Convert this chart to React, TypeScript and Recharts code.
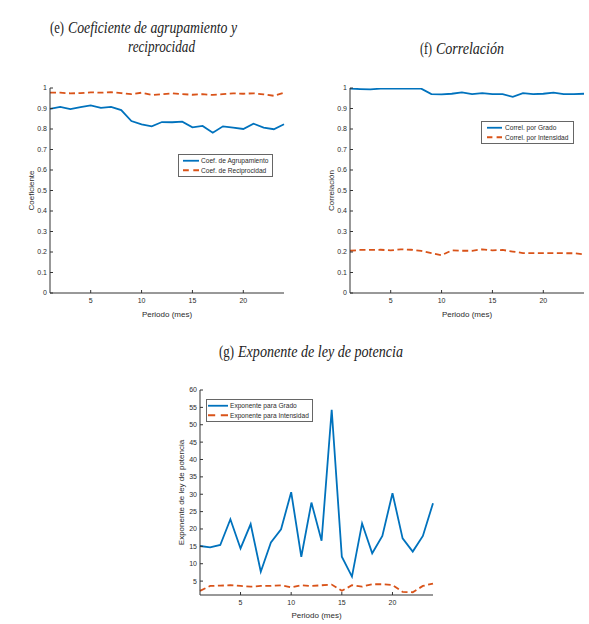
import React from 'react';
import { LineChart, Line, XAxis, YAxis, Legend } from 'recharts';

// ---- Data ----
const periods = [1, 2, 3, 4, 5, 6, 7, 8, 9, 10, 11, 12, 13, 14, 15, 16, 17, 18, 19, 20, 21, 22, 23, 24];

const coefAgrupamiento = [0.898, 0.908, 0.897, 0.907, 0.915, 0.903, 0.908, 0.892, 0.839, 0.823, 0.813, 0.834, 0.833, 0.836, 0.808, 0.815, 0.782, 0.813, 0.807, 0.8, 0.826, 0.807, 0.799, 0.823];
const coefReciprocidad = [0.977, 0.977, 0.974, 0.975, 0.979, 0.977, 0.98, 0.975, 0.97, 0.977, 0.966, 0.97, 0.974, 0.97, 0.967, 0.97, 0.966, 0.97, 0.974, 0.972, 0.974, 0.969, 0.962, 0.977];

const correlGrado = [0.997, 0.995, 0.993, 0.997, 0.997, 0.997, 0.997, 0.997, 0.97, 0.969, 0.972, 0.979, 0.97, 0.975, 0.97, 0.97, 0.957, 0.975, 0.97, 0.972, 0.977, 0.97, 0.97, 0.972];
const correlIntensidad = [0.206, 0.21, 0.21, 0.211, 0.208, 0.213, 0.211, 0.205, 0.194, 0.184, 0.208, 0.206, 0.206, 0.213, 0.208, 0.21, 0.202, 0.195, 0.195, 0.195, 0.195, 0.194, 0.194, 0.189];

const expGrado = [15.1, 14.7, 15.4, 22.8, 14.4, 21.4, 7.7, 16.1, 19.9, 30.6, 12, 27.6, 16.6, 54.3, 12, 6.3, 21.6, 13, 18, 30.3, 17.3, 13.5, 18, 27.4];
const expIntensidad = [2.2, 3.6, 3.7, 3.8, 3.6, 3.4, 3.6, 3.6, 3.8, 3.2, 3.8, 3.6, 3.8, 4.0, 2.2, 3.8, 3.4, 4.1, 4.1, 3.9, 1.9, 1.8, 3.6, 4.3];

const xTicks = [5, 10, 15, 20];
const unitTicks = [0, 0.1, 0.2, 0.3, 0.4, 0.5, 0.6, 0.7, 0.8, 0.9, 1];
const expTicks = [5, 10, 15, 20, 25, 30, 35, 40, 45, 50, 55, 60];

const namesE = ['Coef. de Agrupamiento', 'Coef. de Reciprocidad'];
const namesF = ['Correl. por Grado', 'Correl. por Intensidad'];
const namesG = ['Exponente para Grado', 'Exponente para Intensidad'];

// ---- Styles ----
const BLUE = '#0072BD';
const RED = '#D95319';
const AXIS = '#333333';
const TEXT = '#2b2b2b';
const SANS = '"Liberation Sans", Arial, sans-serif';
const SERIF = '"Liberation Serif", "Times New Roman", serif';

const build = (a: number[], b: number[]) => periods.map((p, i) => ({ p, s1: a[i], s2: b[i] }));

const emptyTick = () => <g />;

type LegendCfg = { left: number; top: number; width: number; height: number; lineX0: number; lineX1: number; textX: number };

type PanelProps = {
  left: number; top: number; width: number; height: number;
  margin: { top: number; right: number; bottom: number; left: number };
  xHeight: number;
  data: { p: number; s1: number; s2: number }[];
  names: string[];
  yDomain: [number, number];
  yTicks: number[];
  yLabel: string;
  xLabelDy: number;
  legend: LegendCfg;
};

function LegendBox({ cfg, names }: { cfg: LegendCfg; names: string[] }) {
  const rowH = cfg.height / 2;
  const len = cfg.lineX1 - cfg.lineX0;
  const dash = `${(len * 0.36).toFixed(1)} ${(len * 0.28).toFixed(1)}`;
  return (
    <svg width={cfg.width} height={cfg.height} style={{ display: 'block' }}>
      <rect x={0.5} y={0.5} width={cfg.width - 1} height={cfg.height - 1} fill="#fff" stroke="#666" strokeWidth={1} />
      {names.map((n, i) => {
        const cy = rowH * i + rowH / 2 + (i === 0 ? 1 : -1);
        return (
          <g key={n}>
            <line x1={cfg.lineX0} x2={cfg.lineX1} y1={cy} y2={cy} stroke={i === 0 ? BLUE : RED} strokeWidth={1.8} strokeDasharray={i === 0 ? undefined : dash} />
            <text x={cfg.textX} y={cy + 2.3} fontSize={6.6} fontFamily={SANS} fill={TEXT}>{n}</text>
          </g>
        );
      })}
    </svg>
  );
}

function Panel(props: PanelProps) {
  const { left, top, width, height, margin, xHeight, data, names, yDomain, yTicks, yLabel, xLabelDy, legend } = props;
  const tickStyle = { fontSize: 7, fill: TEXT, fontFamily: SANS };
  return (
    <div style={{ position: 'absolute', left, top, width, height }}>
      <LineChart width={width} height={height} data={data} margin={margin}>
        <XAxis
          xAxisId="b"
          dataKey="p"
          type="number"
          domain={[1, 24]}
          ticks={xTicks}
          interval={0}
          height={xHeight}
          tickSize={-3}
          tickMargin={8}
          tick={tickStyle}
          stroke={AXIS}
          tickLine={{ stroke: AXIS }}
          axisLine={{ stroke: AXIS }}
          label={{
            content: (lp: any) => {
              const vb = lp.viewBox || { x: 0, y: 0, width: 0 };
              return (
                <text x={vb.x + vb.width / 2} y={vb.y + xLabelDy} textAnchor="middle" fontSize={8} fontFamily={SANS} fill={TEXT}>
                  Periodo (mes)
                </text>
              );
            },
          }}
        />
        <XAxis
          xAxisId="t"
          orientation="top"
          type="number"
          dataKey="p"
          domain={[1, 24]}
          ticks={xTicks}
          interval={0}
          height={0}
          tickSize={-3}
          tick={emptyTick}
          stroke={AXIS}
        />
        <YAxis
          yAxisId="l"
          type="number"
          domain={yDomain}
          ticks={yTicks}
          interval={0}
          width={40}
          tickSize={-3}
          tickMargin={6}
          tick={tickStyle}
          stroke={AXIS}
          allowDataOverflow
          label={{
            content: (lp: any) => {
              const vb = lp.viewBox || { x: 0, y: 0, width: 0, height: 0 };
              const cx = vb.x + vb.width - 16;
              const cy = vb.y + vb.height / 2;
              return (
                <text x={cx} y={cy} transform={`rotate(-90 ${cx} ${cy})`} textAnchor="middle" fontSize={8} fontFamily={SANS} fill={TEXT}>
                  {yLabel}
                </text>
              );
            },
          }}
        />
        <YAxis
          yAxisId="r"
          orientation="right"
          type="number"
          domain={yDomain}
          ticks={yTicks}
          interval={0}
          width={0}
          tickSize={-3}
          tick={emptyTick}
          stroke={AXIS}
          allowDataOverflow
        />
        <Legend
          layout="vertical"
          align="center"
          verticalAlign="middle"
          wrapperStyle={{ position: 'absolute', left: legend.left, top: legend.top, width: legend.width, height: legend.height, margin: 0, padding: 0 }}
          content={() => <LegendBox cfg={legend} names={names} />}
        />
        <Line xAxisId="b" yAxisId="l" type="linear" dataKey="s1" name={names[0]} stroke={BLUE} strokeWidth={1.8} dot={false} isAnimationActive={false} />
        <Line xAxisId="b" yAxisId="l" type="linear" dataKey="s2" name={names[1]} stroke={RED} strokeWidth={1.8} strokeDasharray="6 3.5" dot={false} isAnimationActive={false} />
      </LineChart>
    </div>
  );
}

function TitlePart({ x, y, w, italic, children }: { x: number; y: number; w: number; italic?: boolean; children: React.ReactNode }) {
  return (
    <text x={x} y={y} fontSize={16} fontFamily={SERIF} fill="#222" fontStyle={italic ? 'italic' : 'normal'} textLength={w} lengthAdjust="spacingAndGlyphs">
      {children}
    </text>
  );
}

function Titles() {
  return (
    <svg width={589} height={624} style={{ position: 'absolute', left: 0, top: 0, pointerEvents: 'none' }}>
      <TitlePart x={50} y={33} w={14}>(e)</TitlePart>
      <TitlePart x={68} y={33} w={169} italic>Coeficiente de agrupamiento y</TitlePart>
      <TitlePart x={128} y={52} w={67} italic>reciprocidad</TitlePart>
      <TitlePart x={420} y={54} w={12}>(f)</TitlePart>
      <TitlePart x={436} y={54} w={68} italic>Correlación</TitlePart>
      <TitlePart x={219} y={357} w={15}>(g)</TitlePart>
      <TitlePart x={238} y={357} w={165} italic>Exponente de ley de potencia</TitlePart>
    </svg>
  );
}

export default function App() {
  return (
    <div style={{ position: 'absolute', left: 0, top: 0, width: 589, height: 624, background: '#fff', overflow: 'hidden' }}>
      <Titles />
      <Panel
        left={0} top={80} width={300} height={245}
        margin={{ top: 8, right: 16, bottom: 0, left: 10 }}
        xHeight={32}
        data={build(coefAgrupamiento, coefReciprocidad)}
        names={namesE}
        yDomain={[0, 1]}
        yTicks={unitTicks}
        yLabel="Coeficiente"
        xLabelDy={24}
        legend={{ left: 178, top: 74, width: 95, height: 23, lineX0: 5, lineX1: 21, textX: 23 }}
      />
      <Panel
        left={300} top={80} width={289} height={245}
        margin={{ top: 8, right: 5, bottom: 0, left: 10 }}
        xHeight={32}
        data={build(correlGrado, correlIntensidad)}
        names={namesF}
        yDomain={[0, 1]}
        yTicks={unitTicks}
        yLabel="Correlación"
        xLabelDy={24}
        legend={{ left: 181, top: 41, width: 93, height: 23, lineX0: 6, lineX1: 21, textX: 24 }}
      />
      <Panel
        left={150} top={380} width={300} height={244}
        margin={{ top: 10, right: 17, bottom: 0, left: 10 }}
        xHeight={29}
        data={build(expGrado, expIntensidad)}
        names={namesG}
        yDomain={[1, 60]}
        yTicks={expTicks}
        yLabel="Exponente de ley de potencia"
        xLabelDy={23}
        legend={{ left: 56, top: 19, width: 107, height: 23, lineX0: 2, lineX1: 22, textX: 24 }}
      />
    </div>
  );
}
